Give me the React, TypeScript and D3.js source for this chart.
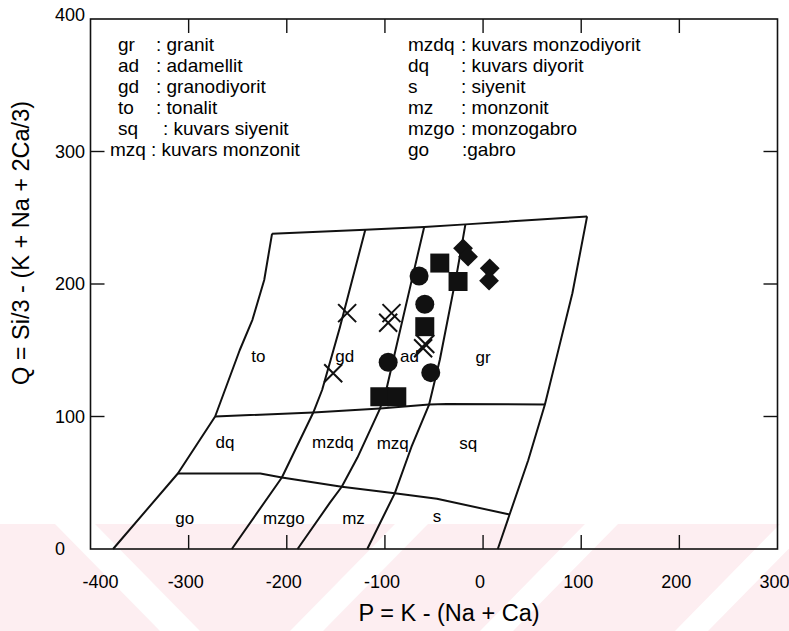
import React, { useRef, useEffect } from "react";
import * as d3 from "d3";

/* axis ranges and ticks */
const pDomain = [-400, 300];
const qDomain = [0, 400];
const pTicks = [-400, -300, -200, -100, 0, 100, 200, 300];
const qTicks = [0, 100, 200, 300, 400];

/* field boundaries of the P-Q diagram, [P, Q] */
const topEdge = [[-215, 238], [-120, 241], [-60, 243], [-18, 245], [106, 251]];
const leftEdge = [[-215, 238], [-223, 203], [-235, 173], [-248, 150], [-273, 100], [-311, 57], [-377, 0]];
const rightEdge = [[106, 251], [91, 193], [75, 145], [63, 109], [46, 67], [27, 26], [15, 0]];
const toGdLine = [[-120, 241], [-146, 167], [-164, 120], [-173, 103], [-205, 54], [-256, 0]];
const gdAdLine = [[-60, 243], [-72, 205], [-98, 122], [-105, 106], [-128, 69], [-144, 47], [-156, 35], [-189, 0]];
const adGrLine = [[-18, 245], [-26, 211], [-44, 143], [-55, 109], [-73, 77], [-90, 42], [-118, 0]];
const q100Line = [[-273, 100], [-173, 103], [-105, 106], [-55, 109], [-37, 109.5], [63, 109]];
const lowerLine = [[-311, 57], [-227, 57], [-205, 54], [-144, 47], [-90, 42], [-47, 38], [27, 26]];

/* field names [name, P, Q] */
const fieldLabels = [
  ["to", -229, 145], ["gd", -141, 145], ["ad", -75, 145], ["gr", 0, 144],
  ["dq", -263, 80], ["mzdq", -153, 80], ["mzq", -92, 79], ["sq", -15, 79],
  ["go", -304, 23], ["mzgo", -203, 23], ["mz", -132, 23], ["s", -47, 24],
];

/* samples [P, Q] */
const crossPoints = [[-138.5, 178], [-152.7, 132.6], [-93.3, 178], [-96.7, 170.8], [-61.1, 151.5], [-58.9, 154.7]];
const circlePoints = [[-65.2, 206], [-59.4, 184.7], [-96.7, 140.9], [-53.3, 133.1]];
const squarePoints = [[-44.1, 215.8], [-25.5, 201.9], [-59.4, 167.8], [-105.2, 114.9], [-87.9, 114.9]];
const diamondPoints = [[-20.4, 226.9], [-15.3, 220.6], [6.8, 211.8], [6.1, 202.5]];

/* legend */
const legendAbbr1 = ["gr", "ad", "gd", "to", "sq", "mzq"];
const legendName1 = [": granit", ": adamellit", ": granodiyorit", ": tonalit", ": kuvars siyenit", ": kuvars monzonit"];
const legendAbbr2 = ["mzdq", "dq", "s", "mz", "mzgo", "go"];
const legendName2 = [": kuvars monzodiyorit", ": kuvars diyorit", ": siyenit", ": monzonit", ": monzogabro", ":gabro"];

const FONT = "'Liberation Sans', Arial, sans-serif";

const App = () => {
  const svgRef = useRef(null);

  const drawChart = () => {
    const width = 789;
    const height = 631;
    d3.select(svgRef.current).selectAll("*").remove();
    const svg = d3.select(svgRef.current).attr("width", width).attr("height", height);

    svg.append("rect").attr("width", width).attr("height", height).attr("fill", "#ffffff");

    /* faint watermark at the bottom */
    const wm = svg.append("g");
    wm.append("rect").attr("x", 0).attr("y", 524).attr("width", width).attr("height", 107).attr("fill", "#fdeef1");
    const gaps = [
      [55, 95, 160, 200],
      [395, 428, 290, 323],
      [585, 618, 480, 513],
      [780, 813, 675, 708],
    ];
    gaps.forEach((g) => {
      wm.append("polygon")
        .attr("points", `${g[0]},524 ${g[1]},524 ${g[3]},631 ${g[2]},631`)
        .attr("fill", "#ffffff");
    });

    const x = d3.scaleLinear().domain(pDomain).range([90.5, 777.5]);
    const y = d3.scaleLinear().domain(qDomain).range([549, 19]);

    /* frame */
    svg.append("rect")
      .attr("x", x(pDomain[0]))
      .attr("y", y(qDomain[1]))
      .attr("width", x(pDomain[1]) - x(pDomain[0]))
      .attr("height", y(qDomain[0]) - y(qDomain[1]))
      .attr("fill", "none")
      .attr("stroke", "#111")
      .attr("stroke-width", 1.6);

    /* ticks pointing inwards */
    const tickLen = 14;
    pTicks.slice(1, -1).forEach((p) => {
      svg.append("line").attr("x1", x(p)).attr("x2", x(p)).attr("y1", y(0)).attr("y2", y(0) - tickLen)
        .attr("stroke", "#111").attr("stroke-width", 1.4);
      svg.append("line").attr("x1", x(p)).attr("x2", x(p)).attr("y1", y(400)).attr("y2", y(400) + tickLen)
        .attr("stroke", "#111").attr("stroke-width", 1.4);
    });
    qTicks.slice(1, -1).forEach((q) => {
      svg.append("line").attr("x1", x(-400)).attr("x2", x(-400) + tickLen).attr("y1", y(q)).attr("y2", y(q))
        .attr("stroke", "#111").attr("stroke-width", 1.4);
      svg.append("line").attr("x1", x(300)).attr("x2", x(300) - tickLen).attr("y1", y(q)).attr("y2", y(q))
        .attr("stroke", "#111").attr("stroke-width", 1.4);
    });

    /* tick labels */
    svg.append("g").selectAll("text").data(pTicks).enter().append("text")
      .attr("x", (d) => (d === -400 ? x(d) + 10 : x(d) - 3))
      .attr("y", 588)
      .attr("text-anchor", "middle")
      .style("font-family", FONT)
      .style("font-size", "18px")
      .text((d) => d);
    svg.append("g").selectAll("text").data(qTicks).enter().append("text")
      .attr("x", 55)
      .attr("y", (d) => y(d) + 6 - (d === 400 ? 4 : 0))
      .attr("text-anchor", "start")
      .style("font-family", FONT)
      .style("font-size", "18px")
      .text((d) => d);

    /* axis titles */
    svg.append("text")
      .attr("x", 449).attr("y", 621)
      .attr("text-anchor", "middle")
      .style("font-family", FONT)
      .style("font-size", "23.5px")
      .text("P = K - (Na + Ca)");
    svg.append("text")
      .attr("transform", "translate(29,243) rotate(-90)")
      .attr("text-anchor", "middle")
      .style("font-family", FONT)
      .style("font-size", "23.5px")
      .text("Q = Si/3 - (K + Na + 2Ca/3)");

    /* field boundaries */
    const line = d3.line().x((d) => x(d[0])).y((d) => y(d[1]));
    [topEdge, leftEdge, rightEdge, toGdLine, gdAdLine, adGrLine, q100Line, lowerLine].forEach((l) => {
      svg.append("path").datum(l).attr("d", line)
        .attr("fill", "none").attr("stroke", "#111").attr("stroke-width", 2).attr("stroke-linejoin", "round");
    });

    /* field names */
    svg.append("g").selectAll("text").data(fieldLabels).enter().append("text")
      .attr("x", (d) => x(d[1]))
      .attr("y", (d) => y(d[2]) + 5)
      .attr("text-anchor", "middle")
      .style("font-family", FONT)
      .style("font-size", "17px")
      .text((d) => d[0]);

    /* legend */
    const rowY = (i) => 51 + i * 21;
    const abbrX1 = [118, 118, 118, 118, 118, 110];
    const colon1 = [156, 156, 156, 156, 163, 151];
    const colon2 = [461, 461, 461, 461, 461, 462];
    legendAbbr1.forEach((a, i) => {
      svg.append("text").attr("x", abbrX1[i]).attr("y", rowY(i)).style("font-family", FONT).style("font-size", "19px").text(a);
      svg.append("text").attr("x", colon1[i]).attr("y", rowY(i)).style("font-family", FONT).style("font-size", "19px").text(legendName1[i]);
    });
    legendAbbr2.forEach((a, i) => {
      svg.append("text").attr("x", 408).attr("y", rowY(i)).style("font-family", FONT).style("font-size", "19px").text(a);
      svg.append("text").attr("x", colon2[i]).attr("y", rowY(i)).style("font-family", FONT).style("font-size", "19px").text(legendName2[i]);
    });

    /* samples */
    const marks = svg.append("g");
    marks.selectAll(".sq").data(squarePoints).enter().append("path")
      .attr("transform", (d) => `translate(${x(d[0])},${y(d[1])})`)
      .attr("d", d3.symbol().type(d3.symbolSquare).size(19 * 19)())
      .attr("fill", "#111");
    marks.selectAll(".ci").data(circlePoints).enter().append("path")
      .attr("transform", (d) => `translate(${x(d[0])},${y(d[1])})`)
      .attr("d", d3.symbol().type(d3.symbolCircle).size(Math.PI * 9.5 * 9.5)())
      .attr("fill", "#111");
    marks.selectAll(".di").data(diamondPoints).enter().append("path")
      .attr("transform", (d) => `translate(${x(d[0])},${y(d[1])}) rotate(45)`)
      .attr("d", d3.symbol().type(d3.symbolSquare).size(14 * 14)())
      .attr("fill", "#111");
    marks.selectAll(".cr").data(crossPoints).enter().append("path")
      .attr("transform", (d) => `translate(${x(d[0])},${y(d[1])})`)
      .attr("d", "M-9,-9L9,9M-9,9L9,-9")
      .attr("fill", "none")
      .attr("stroke", "#111")
      .attr("stroke-width", 2);
  };

  useEffect(() => {
    drawChart();
  }, []);

  return (
    <svg ref={svgRef} style={{ position: "absolute", left: 0, top: 0, display: "block" }} />
  );
};

export default App;
